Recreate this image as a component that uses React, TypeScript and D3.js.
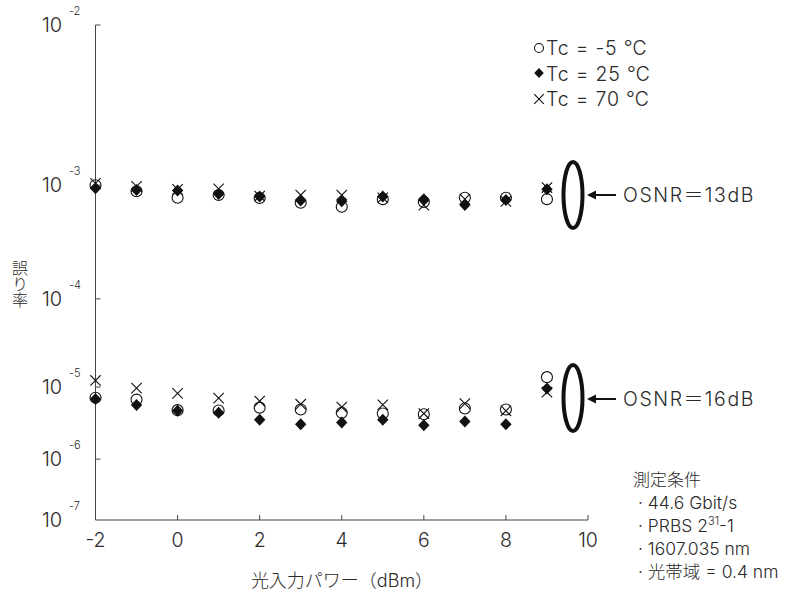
import React from "react";
import * as d3 from "d3";

const powers = [-2, -1, 0, 1, 2, 3, 4, 5, 6, 7, 8, 9];
// OSNR = 13 dB
const ber13_m5 = [1.0e-3, 9.0e-4, 8.0e-4, 8.4e-4, 7.96e-4, 7.3e-4, 6.8e-4, 7.8e-4, 7.4e-4, 8.0e-4, 8.0e-4, 7.8e-4];
const ber13_25 = [9.5e-4, 9.2e-4, 9.1e-4, 8.55e-4, 8.2e-4, 7.6e-4, 7.5e-4, 8.2e-4, 7.8e-4, 7.0e-4, 7.7e-4, 9.3e-4];
const ber13_70 = [1.035e-3, 9.8e-4, 9.3e-4, 9.4e-4, 8.25e-4, 8.4e-4, 8.4e-4, 8.0e-4, 7.0e-4, 7.8e-4, 7.5e-4, 9.6e-4];
// OSNR = 16 dB
const ber16_m5 = [7.3e-6, 6.9e-6, 5.0e-6, 4.94e-6, 5.4e-6, 5.1e-6, 4.6e-6, 4.5e-6, 4.4e-6, 5.25e-6, 5.1e-6, 1.33e-5];
const ber16_25 = [7.0e-6, 5.85e-6, 4.9e-6, 4.6e-6, 3.7e-6, 3.2e-6, 3.4e-6, 3.7e-6, 3.1e-6, 3.5e-6, 3.2e-6, 9.6e-6];
const ber16_70 = [1.21e-5, 9.7e-6, 8.3e-6, 7.2e-6, 6.6e-6, 6.0e-6, 5.5e-6, 5.9e-6, 4.5e-6, 6.1e-6, 4.9e-6, 8.6e-6];

const xTicks = [-2, 0, 2, 4, 6, 8, 10];
const yExps = [-2, -3, -4, -5, -6, -7];
const legendLabels = ["Tc = -5 ℃", "Tc = 25 ℃", "Tc = 70 ℃"];
const osnrLabels = ["OSNR＝13dB", "OSNR＝16dB"];
const condTitle = "測定条件";
const xTitle = "光入力パワー（dBm）";
const yTitle = "誤り率";

const FONT = "Inter, 'Noto Sans CJK JP', sans-serif";
const TXT = "#2a2a2a";
const FW = 300;

export default function App() {
  const W = 805, H = 592;
  const x = d3.scaleLinear().domain([-2, 10]).range([95.5, 588]);
  const yT = d3.scaleLinear().domain([Math.log10(2), Math.log10(7)]).range([25, 520]);
  const y = (p: number) => yT(Math.log10(-Math.log10(p)));
  const y0 = y(1e-7);
  const yTop = y(1e-2);

  const circle = (cx: number, cy: number, r = 5.5, key?: string) => (
    <circle key={key} cx={cx} cy={cy} r={r} fill="none" stroke="#111" strokeWidth={1.1} />
  );
  const diamond = (cx: number, cy: number, s = 6, key?: string) => (
    <path key={key} d={`M${cx},${cy - s}L${cx + s * 0.95},${cy}L${cx},${cy + s}L${cx - s * 0.95},${cy}Z`} fill="#111" />
  );
  const cross = (cx: number, cy: number, s = 5.2, key?: string) => (
    <path key={key} d={`M${cx - s},${cy - s}L${cx + s},${cy + s}M${cx - s},${cy + s}L${cx + s},${cy - s}`} stroke="#111" strokeWidth={1.1} fill="none" />
  );

  const ellipse = (cy: number, key: string) => (
    <ellipse key={key} cx={573} cy={cy} rx={9.5} ry={33} fill="none" stroke="#111" strokeWidth={4} />
  );
  const arrow = (cy: number, label: string, key: string) => (
    <g key={key}>
      <line x1={594} y1={cy} x2={616} y2={cy} stroke="#111" strokeWidth={2} />
      <path d={`M587,${cy}L596,${cy - 4.5}L596,${cy + 4.5}Z`} fill="#111" />
      <text x={623} y={cy + 7} fontSize={19.5} fill={TXT} fontFamily={FONT} fontWeight={FW} letterSpacing={1.6}>{label}</text>
    </g>
  );

  return (
    <svg width={W} height={H} style={{ position: "absolute", left: 0, top: 0, background: "#fff" }}>
      {/* axes */}
      <line x1={x(-2)} y1={yTop} x2={x(-2)} y2={y0} stroke="#444" strokeWidth={1} />
      <line x1={x(-2)} y1={y0} x2={x(10)} y2={y0} stroke="#444" strokeWidth={1} />
      {yExps.slice(0, 5).map((e) => (
        <line key={"yt" + e} x1={x(-2)} x2={x(-2) + 5} y1={y(Math.pow(10, e))} y2={y(Math.pow(10, e))} stroke="#444" strokeWidth={1} />
      ))}
      {xTicks.slice(1).map((t) => (
        <line key={"xt" + t} x1={x(t)} x2={x(t)} y1={y0} y2={y0 - 5} stroke="#444" strokeWidth={1} />
      ))}
      {yExps.map((e) => {
        const yy = y(Math.pow(10, e));
        return (
          <text key={"yl" + e} x={42} y={yy + 7} fontSize={20} fill={TXT} fontFamily={FONT} fontWeight={FW}>
            10
            <tspan x={69} y={yy - 10} fontSize={11}>{String(e)}</tspan>
          </text>
        );
      })}
      {xTicks.map((t) => (
        <text key={"xl" + t} x={x(t)} y={547} fontSize={19.5} fill={TXT} fontFamily={FONT} fontWeight={FW} textAnchor="middle">{String(t)}</text>
      ))}
      <text x={342} y={587} fontSize={18} fill={TXT} fontFamily={FONT} fontWeight={FW} textAnchor="middle">{xTitle}</text>
      <text x={19} y={260} fontSize={16} fill={TXT} fontFamily={FONT} fontWeight={FW} style={{ writingMode: "vertical-rl" }}>{yTitle}</text>

      {/* data */}
      {powers.map((p, i) => circle(x(p), y(ber13_m5[i]), 5.5, "c13" + i))}
      {powers.map((p, i) => circle(x(p), y(ber16_m5[i]), 5.5, "c16" + i))}
      {powers.map((p, i) => cross(x(p), y(ber13_70[i]), 5.2, "x13" + i))}
      {powers.map((p, i) => cross(x(p), y(ber16_70[i]), 5.2, "x16" + i))}
      {powers.map((p, i) => diamond(x(p), y(ber13_25[i]), 6, "d13" + i))}
      {powers.map((p, i) => diamond(x(p), y(ber16_25[i]), 6, "d16" + i))}

      {/* OSNR annotations */}
      {ellipse(195, "e13")}
      {ellipse(398, "e16")}
      {arrow(195, osnrLabels[0], "a13")}
      {arrow(399, osnrLabels[1], "a16")}

      {/* legend */}
      {circle(539, 48, 4.5, "lc")}
      {diamond(539, 73, 5, "ld")}
      {cross(539, 99, 4.8, "lx")}
      {legendLabels.map((l, i) => (
        <text key={"lg" + i} x={546} y={55 + i * 25.5} fontSize={19.5} fill={TXT} fontFamily={FONT} fontWeight={FW} letterSpacing={0.8} style={{ whiteSpace: "pre" }}>{l}</text>
      ))}

      {/* conditions */}
      <text x={633} y={486} fontSize={17} fill={TXT} fontFamily={FONT} fontWeight={FW}>{condTitle}</text>
      <text x={638} y={509} fontSize={17.5} fill={TXT} fontFamily={FONT} fontWeight={FW}>· 44.6 Gbit/s</text>
      <text x={638} y={532} fontSize={17.5} fill={TXT} fontFamily={FONT} fontWeight={FW}>
        · PRBS 2<tspan dy={-7} fontSize={11}>31</tspan><tspan dy={7}>-1</tspan>
      </text>
      <text x={638} y={555} fontSize={17.5} fill={TXT} fontFamily={FONT} fontWeight={FW}>· 1607.035 nm</text>
      <text x={638} y={578} fontSize={17.5} fill={TXT} fontFamily={FONT} fontWeight={FW}>· 光帯域 = 0.4 nm</text>
    </svg>
  );
}
